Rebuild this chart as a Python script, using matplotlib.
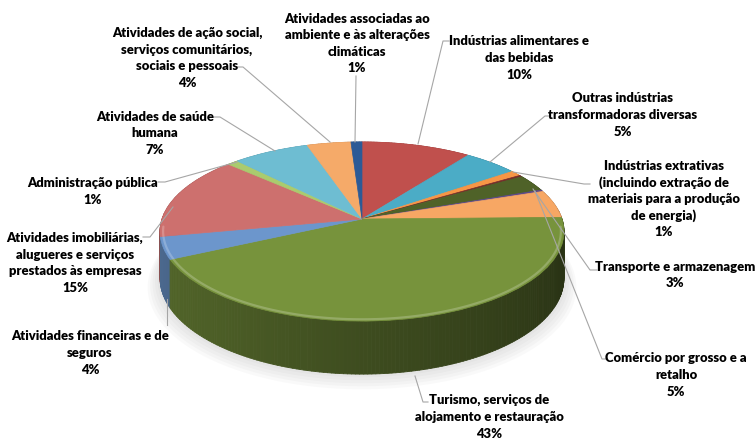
import numpy as np
import matplotlib
matplotlib.use("Agg")
import matplotlib.pyplot as plt
import matplotlib.colors as mcolors
from matplotlib.transforms import Transform
from matplotlib.collections import PolyCollection

# ---------------- data ----------------
categories = [
    "Indústrias alimentares e\ndas bebidas",
    "Outras indústrias\ntransformadoras diversas",
    "Indústrias extrativas\n(incluindo extração de\nmateriais para a produção\nde energia)",
    "",
    "Transporte e armazenagem",
    "",
    "Comércio por grosso e a\nretalho",
    "Turismo, serviços de\nalojamento e restauração",
    "Atividades financeiras e de\nseguros",
    "Atividades imobiliárias,\nalugueres e serviços\nprestados às empresas",
    "Administração pública",
    "Atividades de saúde\nhumana",
    "Atividades de ação social,\nserviços comunitários,\nsociais e pessoais",
    "Atividades associadas ao\nambiente e às alterações\nclimáticas",
]
values = [10.0, 5.0, 1.0, 0.3, 3.0, 0.3, 5.0, 43.0, 4.0, 15.0, 1.0, 7.0, 4.0, 1.0]
colors = ["#C0504D", "#4BACC6", "#F79646", "#772C2A", "#4F6228", "#5F4B8B",
          "#F7A764", "#77933C", "#6C96CC", "#CD706E", "#AACB6E", "#6EBDD2",
          "#F5AA69", "#2C5A96"]

# ---------------- layout (pixel coords) ----------------
label_pos = {
    0: (519, 58), 1: (623, 115), 2: (664, 199), 4: (675, 275),
    6: (676, 375), 7: (489, 417), 8: (90, 353), 9: (75, 263),
    10: (93, 191.5), 11: (155, 133.5), 12: (187, 58), 13: (357, 43.5),
}
leaders = {
    13: [(356, 77), (355, 143)],
    0: [(449, 42), (443, 42), (418, 145)],
    1: [(550, 117), (545, 117), (490, 163)],
    2: [(590, 185), (584, 185), (513, 173)],
    4: [(597, 271), (590, 271), (533, 190)],
    6: [(607, 360), (602, 360), (535, 192)],
    7: [(428, 403), (423, 403), (415, 377)],
    8: [(167, 326), (167, 300)],
    9: [(143, 238), (150, 238), (173, 208)],
    10: [(158, 183), (165, 183), (237, 163)],
    11: [(214, 118), (220, 118), (275, 152)],
    12: [(237, 68), (243, 68), (330, 143)],
}
LINE_H = 16.6

CX, CY, R, S, P, D = 362.0, 220.0, 200.0, 87.8, 0.14, 45.6


def project(u, v, z):
    u = np.asarray(u, float)
    v = np.asarray(v, float)
    w = 1.0 + P * v
    X = CX + R * u / w
    Y = CY - (S * v + D * z) / w
    return X, Y


class Persp(Transform):
    input_dims = 2
    output_dims = 2
    is_separable = False
    has_inverse = False

    def __init__(self, z=0.0):
        super().__init__()
        self.z = z

    def transform_non_affine(self, values):
        values = np.asarray(values, float)
        X, Y = project(values[:, 0], values[:, 1], self.z)
        return np.column_stack([X, Y])


def shade(a):
    a = a % 360
    xp = [0, 15, 90, 180, 230, 270, 320, 345, 360]
    fp = [0.45, 0.62, 0.8, 0.72, 0.64, 0.52, 0.40, 0.34, 0.45]
    return np.interp(a, xp, fp)


fig = plt.figure(figsize=(7.56, 4.39), dpi=100)
ax = fig.add_axes([0, 0, 1, 1])

wedges, _ = ax.pie(values, startangle=90, counterclock=False, colors=colors,
                   wedgeprops=dict(transform=Persp(0.0) + ax.transData,
                                   linewidth=0.5, zorder=3))
for w in wedges:
    w.set_edgecolor(w.get_facecolor())

# soft shadow under the pie
th = np.linspace(0, 2 * np.pi, 200)
for k in range(6):
    sc = 1.0 + 0.012 * k
    X, Y = project(sc * np.cos(th), sc * np.sin(th), -1.0)
    ax.fill(X, Y + 1.5 * k, color="#808080", alpha=0.045, lw=0, zorder=0.5)

# side bands
polys, cols, depth = [], [], []
for w, c in zip(wedges, colors):
    t1, t2 = w.theta1, w.theta2
    n = max(2, int(np.ceil((t2 - t1) / 1.0)) + 1)
    a = np.linspace(t1, t2, n)
    rgb = np.array(mcolors.to_rgb(c))
    for a0, a1 in zip(a[:-1], a[1:]):
        rr = np.radians([a0, a1])
        u, v = np.cos(rr), np.sin(rr)
        Xt, Yt = project(u, v, 0.0)
        Xb, Yb = project(u, v, -1.0)
        polys.append([(Xt[0], Yt[0]), (Xt[1], Yt[1]), (Xb[1], Yb[1]), (Xb[0], Yb[0])])
        am = 0.5 * (a0 + a1)
        cols.append(np.clip(rgb * shade(am), 0, 1))
        depth.append(np.sin(np.radians(am)))
order = np.argsort(depth)[::-1]
pc = PolyCollection([polys[i] for i in order],
                    facecolors=[cols[i] for i in order],
                    edgecolors=[cols[i] for i in order],
                    linewidths=0.6, zorder=1)
ax.add_collection(pc)

# rim highlight on the front edge of the top face
ta = np.radians(np.linspace(185, 355, 120))
Xh, Yh = project(0.985 * np.cos(ta), 0.985 * np.sin(ta), 0.0)
ax.plot(Xh, Yh, color="white", alpha=0.22, lw=1.6, zorder=4, solid_capstyle="round")

# leader lines
for i, pts in leaders.items():
    xs, ys = zip(*pts)
    ax.plot(xs, ys, color="#A6A6A6", lw=0.8, zorder=5)

# labels
total = sum(values)
font = dict(family=["Lato", "DejaVu Sans"], fontweight="heavy", fontsize=9.4,
            color="black")
for i, (xc, yc) in label_pos.items():
    lines = categories[i].split("\n") + [f"{round(values[i] / total * 100)}%"]
    n = len(lines)
    for j, s in enumerate(lines):
        y = yc + (j - (n - 1) / 2) * LINE_H
        ax.text(xc, y, s, ha="center", va="center", zorder=6, **font)

ax.set_xlim(0, 756)
ax.set_ylim(439, 0)
ax.set_aspect("auto")
ax.axis("off")
fig.savefig("out.png", dpi=100)
